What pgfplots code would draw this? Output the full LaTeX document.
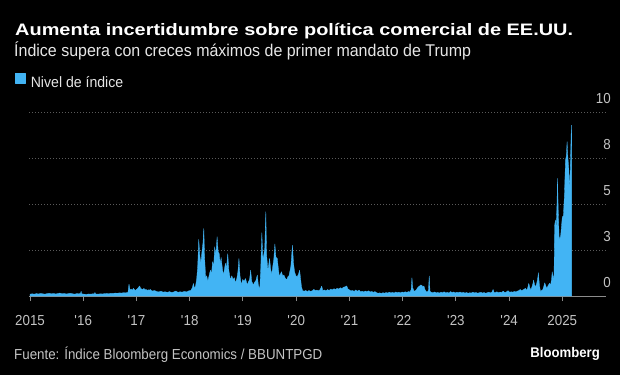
\documentclass[border=0pt]{standalone}
\usepackage{fontspec}
\setmainfont{Liberation Sans}
\newfontfamily\titlefont{Liberation Sans}[FakeStretch=1.2]
\newfontfamily\subfont{Liberation Sans}[FakeStretch=0.94]
\newfontfamily\condfont{Liberation Sans}[FakeStretch=0.92]
\usepackage{pgfplots}
\pgfplotsset{compat=1.18}
\definecolor{barblue}{HTML}{42B4F4}
\definecolor{gridgray}{HTML}{5A5A5A}
\definecolor{axisgray}{HTML}{8C8C8C}
\definecolor{ticktext}{HTML}{C4C4C4}
\definecolor{subtext}{HTML}{E6E6E6}
\begin{document}
\begin{tikzpicture}
\fill[black] (0pt,0pt) rectangle (620pt,375pt);
\path[use as bounding box] (0pt,0pt) rectangle (620pt,375pt);
\node[anchor=base west, inner sep=0pt, text=white] at (15pt,339pt)
  {\titlefont\bfseries\fontsize{16.6}{18}\selectfont Aumenta incertidumbre sobre política comercial de EE.UU.};
\node[anchor=base west, inner sep=0pt, text=subtext] at (14pt,318.3pt)
  {\subfont\fontsize{17}{19}\selectfont Índice supera con creces máximos de primer mandato de Trump};
\node[anchor=base west, inner sep=0pt, text=ticktext] at (14pt,16pt)
  {\condfont\fontsize{14.5}{16}\selectfont Fuente: Índice Bloomberg Economics / BBUNTPGD};
\node[anchor=base east, inner sep=0pt, text=white] at (600pt,17.5pt)
  {\subfont\bfseries\fontsize{14}{16}\selectfont Bloomberg};
\begin{axis}[
  at={(29pt,79pt)}, anchor=south west,
  scale only axis, width=577pt, height=184pt,
  xmin=2014.981, xmax=2025.821, ymin=0, ymax=10,
  axis x line*=bottom, axis y line*=right,
  x axis line style={draw=axisgray, line width=0.9pt, -},
  y axis line style={draw=none, -},
  xtick={2015,2016,2017,2018,2019,2020,2021,2022,2023,2024,2025},
  xticklabels={2015,\textquotesingle16,\textquotesingle17,\textquotesingle18,\textquotesingle19,\textquotesingle20,\textquotesingle21,\textquotesingle22,\textquotesingle23,\textquotesingle24,2025},
  ytick={0,2.5,5,7.5,10},
  yticklabels={0,3,5,8,10},
  tick align=outside,
  major tick length=5pt,
  xtick style={draw=axisgray, line width=0.9pt},
  ytick style={draw=none},
  ymajorgrids,
  y grid style={draw=gridgray, line width=0.8pt, dash pattern=on 1pt off 2pt},
  xticklabel style={font=\condfont\fontsize{14.5}{16}\selectfont, text=ticktext, anchor=base, inner sep=0pt, yshift=-24.7pt},
  yticklabel style={font=\condfont\fontsize{14.5}{16}\selectfont, text=ticktext, anchor=south east, inner sep=0pt, yshift=8pt},
  legend style={at={(rel axis cs:0,1)}, anchor=north west, xshift=-14pt, yshift=39pt,
    draw=none, fill=none, inner sep=0pt, outer sep=0pt, text=subtext,
    font=\subfont\fontsize{15}{17}\selectfont, nodes={inner sep=0pt}},
  legend cell align=left,
  clip=false,
]
\addplot[fill=barblue, draw=barblue, line width=0.3pt, line join=bevel,
  legend image code/.code={\fill[barblue] (0pt,0pt) rectangle (10pt,10pt); \path (15.5pt,0pt);}]
coordinates {
(2015.00,0.10)(2015.04,0.12)(2015.08,0.10)(2015.12,0.13)(2015.16,0.11)(2015.20,0.14)
(2015.24,0.12)(2015.28,0.10)(2015.32,0.13)(2015.36,0.15)(2015.40,0.12)(2015.44,0.14)
(2015.48,0.11)(2015.52,0.13)(2015.56,0.16)(2015.60,0.12)(2015.64,0.14)(2015.68,0.11)
(2015.72,0.13)(2015.76,0.15)(2015.80,0.12)(2015.84,0.10)(2015.88,0.13)(2015.92,0.12)
(2015.95,0.14)(2015.96,0.26)(2015.97,0.12)(2016.02,0.10)(2016.06,0.09)(2016.10,0.11)
(2016.14,0.10)(2016.18,0.12)(2016.21,0.12)(2016.22,0.20)(2016.23,0.11)(2016.28,0.10)
(2016.32,0.12)(2016.36,0.11)(2016.40,0.13)(2016.44,0.14)(2016.48,0.12)(2016.52,0.15)
(2016.56,0.14)(2016.60,0.16)(2016.64,0.15)(2016.68,0.17)(2016.72,0.16)(2016.76,0.18)
(2016.80,0.17)(2016.84,0.20)(2016.86,0.65)(2016.88,0.30)(2016.90,0.38)(2016.92,0.30)
(2016.94,0.42)(2016.96,0.35)(2016.98,0.30)(2017.00,0.36)(2017.02,0.40)(2017.04,0.48)
(2017.06,0.55)(2017.08,0.40)(2017.10,0.38)(2017.12,0.35)(2017.14,0.42)(2017.16,0.33)
(2017.18,0.36)(2017.20,0.30)(2017.22,0.34)(2017.24,0.31)(2017.26,0.36)(2017.28,0.30)
(2017.30,0.27)(2017.34,0.30)(2017.38,0.24)(2017.42,0.22)(2017.46,0.26)(2017.50,0.21)
(2017.54,0.23)(2017.58,0.20)(2017.62,0.24)(2017.66,0.19)(2017.70,0.22)(2017.74,0.27)
(2017.78,0.20)(2017.82,0.23)(2017.86,0.21)(2017.90,0.25)(2017.94,0.22)(2017.98,0.28)
(2018.02,0.30)(2018.05,0.45)(2018.07,0.69)(2018.09,0.40)(2018.11,0.55)(2018.13,0.90)
(2018.15,1.60)(2018.17,3.08)(2018.19,2.20)(2018.21,1.78)(2018.23,2.40)(2018.25,2.90)
(2018.265,3.68)(2018.28,2.10)(2018.30,1.00)(2018.32,1.10)(2018.34,0.80)(2018.36,1.05)
(2018.38,1.30)(2018.39,1.40)(2018.41,1.20)(2018.43,1.87)(2018.45,1.60)(2018.47,2.68)
(2018.49,2.20)(2018.515,3.22)(2018.535,2.40)(2018.555,2.30)(2018.575,1.70)(2018.59,2.10)
(2018.61,1.60)(2018.63,1.14)(2018.65,1.40)(2018.67,1.78)(2018.69,1.50)(2018.715,2.30)
(2018.735,1.40)(2018.765,0.87)(2018.79,1.10)(2018.815,0.90)(2018.84,1.00)(2018.86,0.70)
(2018.885,0.95)(2018.905,1.30)(2018.925,2.05)(2018.945,1.10)(2018.97,0.60)(2018.995,0.90)
(2019.02,0.80)(2019.05,0.95)(2019.08,0.60)(2019.10,0.75)(2019.125,0.90)(2019.145,1.40)
(2019.165,0.80)(2019.195,0.60)(2019.22,0.75)(2019.245,0.85)(2019.27,1.14)(2019.29,0.60)
(2019.315,0.33)(2019.335,1.50)(2019.355,3.44)(2019.375,2.00)(2019.395,2.30)(2019.41,2.60)
(2019.43,4.58)(2019.445,2.20)(2019.47,1.40)(2019.485,1.70)(2019.50,2.05)(2019.52,1.50)
(2019.54,1.14)(2019.56,1.60)(2019.58,2.00)(2019.60,2.83)(2019.62,2.10)(2019.645,2.05)
(2019.665,1.50)(2019.685,1.05)(2019.705,1.20)(2019.725,1.32)(2019.745,1.10)(2019.77,1.14)
(2019.79,1.00)(2019.82,0.87)(2019.845,1.05)(2019.865,1.10)(2019.88,1.32)(2019.90,1.60)
(2019.93,2.77)(2019.95,1.80)(2019.97,1.32)(2019.995,1.10)(2020.02,1.05)(2020.045,1.20)
(2020.065,1.40)(2020.085,0.90)(2020.10,0.50)(2020.12,0.30)(2020.15,0.26)(2020.18,0.30)
(2020.21,0.24)(2020.24,0.30)(2020.27,0.25)(2020.30,0.28)(2020.33,0.36)(2020.36,0.30)
(2020.39,0.32)(2020.42,0.28)(2020.45,0.35)(2020.48,0.54)(2020.50,0.30)(2020.53,0.33)
(2020.56,0.28)(2020.59,0.35)(2020.62,0.30)(2020.65,0.38)(2020.68,0.33)(2020.71,0.40)
(2020.74,0.35)(2020.77,0.42)(2020.80,0.38)(2020.83,0.45)(2020.86,0.40)(2020.89,0.48)
(2020.92,0.50)(2020.95,0.55)(2020.97,0.40)(2021.00,0.33)(2021.03,0.28)(2021.06,0.30)
(2021.09,0.25)(2021.12,0.33)(2021.15,0.26)(2021.18,0.32)(2021.21,0.24)(2021.24,0.26)
(2021.27,0.22)(2021.30,0.27)(2021.33,0.24)(2021.36,0.28)(2021.39,0.22)(2021.42,0.25)
(2021.45,0.20)(2021.48,0.24)(2021.51,0.18)(2021.54,0.15)(2021.57,0.17)(2021.60,0.14)
(2021.63,0.18)(2021.66,0.15)(2021.69,0.19)(2021.72,0.16)(2021.75,0.21)(2021.78,0.17)
(2021.81,0.20)(2021.84,0.16)(2021.87,0.22)(2021.90,0.18)(2021.93,0.21)(2021.96,0.17)
(2021.99,0.22)(2022.02,0.19)(2022.05,0.23)(2022.08,0.20)(2022.11,0.24)(2022.14,0.22)
(2022.16,0.35)(2022.175,1.00)(2022.19,0.45)(2022.21,0.30)(2022.23,0.25)(2022.26,0.35)
(2022.28,0.45)(2022.30,0.50)(2022.32,0.55)(2022.34,0.60)(2022.36,0.58)(2022.38,0.50)
(2022.40,0.55)(2022.42,0.35)(2022.44,0.25)(2022.46,0.22)(2022.485,0.30)(2022.50,1.09)
(2022.515,0.25)(2022.54,0.20)(2022.57,0.18)(2022.60,0.22)(2022.63,0.17)(2022.66,0.20)
(2022.69,0.16)(2022.72,0.21)(2022.75,0.18)(2022.78,0.23)(2022.81,0.17)(2022.84,0.20)
(2022.87,0.16)(2022.90,0.24)(2022.93,0.19)(2022.96,0.22)(2022.99,0.17)(2023.02,0.21)
(2023.05,0.18)(2023.08,0.22)(2023.11,0.17)(2023.14,0.20)(2023.17,0.16)(2023.20,0.19)
(2023.23,0.15)(2023.26,0.18)(2023.29,0.16)(2023.32,0.21)(2023.35,0.17)(2023.38,0.19)
(2023.41,0.15)(2023.44,0.18)(2023.47,0.20)(2023.50,0.16)(2023.53,0.19)(2023.56,0.15)
(2023.59,0.18)(2023.62,0.21)(2023.65,0.17)(2023.68,0.22)(2023.70,0.36)(2023.72,0.18)
(2023.74,0.19)(2023.77,0.23)(2023.80,0.18)(2023.83,0.21)(2023.86,0.20)(2023.89,0.26)
(2023.92,0.19)(2023.95,0.22)(2023.98,0.29)(2024.01,0.20)(2024.04,0.23)(2024.07,0.21)
(2024.10,0.25)(2024.13,0.22)(2024.16,0.27)(2024.19,0.30)(2024.21,0.36)(2024.23,0.28)
(2024.26,0.33)(2024.29,0.38)(2024.31,0.42)(2024.33,0.30)(2024.35,0.45)(2024.37,0.69)
(2024.39,0.45)(2024.41,0.33)(2024.43,0.50)(2024.45,0.70)(2024.46,0.87)(2024.48,0.60)
(2024.50,0.50)(2024.52,0.70)(2024.54,1.00)(2024.55,1.27)(2024.57,0.60)(2024.59,0.24)
(2024.61,0.30)(2024.63,0.33)(2024.65,0.50)(2024.67,0.72)(2024.69,0.55)(2024.71,0.42)
(2024.73,0.55)(2024.76,0.69)(2024.78,0.60)(2024.80,0.95)(2024.81,1.32)(2024.83,0.90)
(2024.845,1.20)(2024.855,3.80)(2024.87,4.13)(2024.885,3.77)(2024.90,5.00)(2024.91,6.40)
(2024.925,4.50)(2024.94,3.22)(2024.955,3.10)(2024.97,3.30)(2024.985,3.80)(2025.00,4.30)
(2025.02,4.35)(2025.04,5.50)(2025.06,7.39)(2025.075,7.60)(2025.09,8.39)(2025.105,7.50)
(2025.12,7.03)(2025.14,5.76)(2025.155,7.50)(2025.17,9.29)(2025.175,8.80)
} \closedcycle;
\addlegendentry{Nivel de índice}
\end{axis}
\end{tikzpicture}
\end{document}
